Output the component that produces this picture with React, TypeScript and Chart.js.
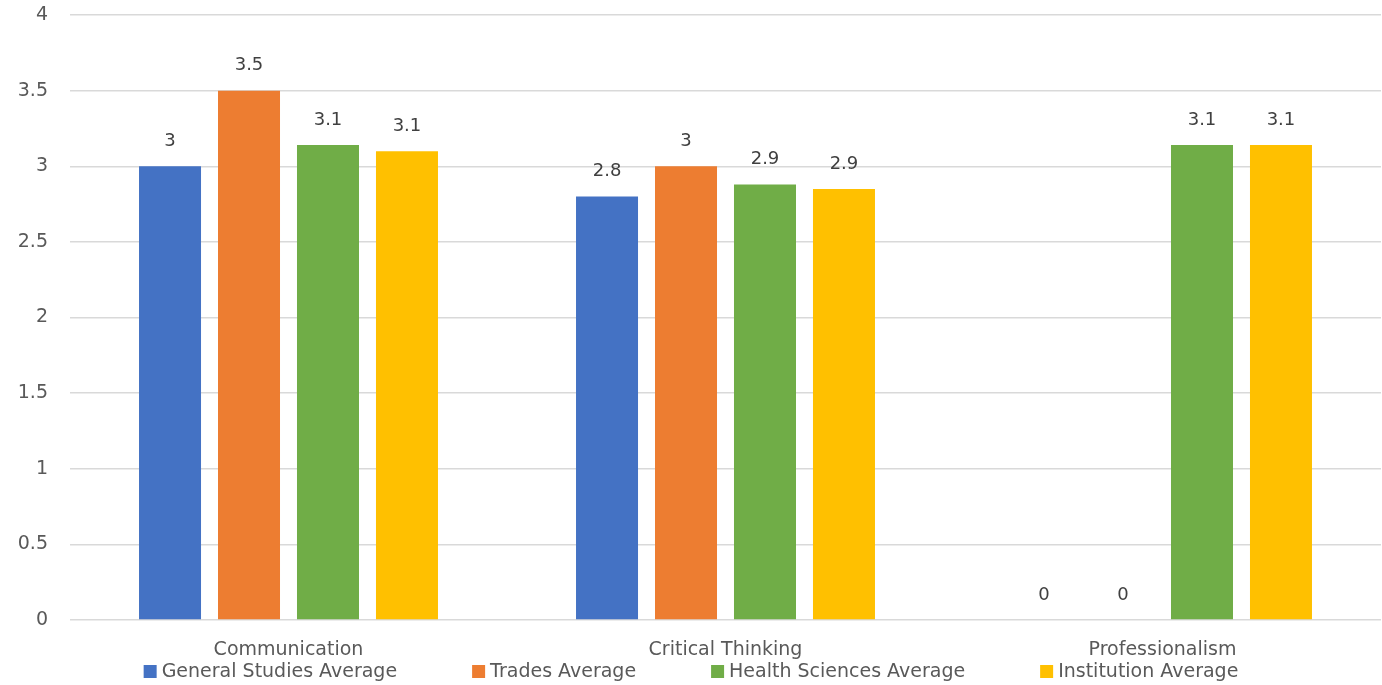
import React, { useEffect, useRef } from "react";
import { Chart, registerables } from "chart.js";

Chart.register(...registerables);

const categories = ["Communication", "Critical Thinking", "Professionalism"];
const seriesNames = [
  "General Studies Average",
  "Trades Average",
  "Health Sciences Average",
  "Institution Average",
];
const generalStudies = [3.0, 2.8, 0];
const trades = [3.5, 3.0, 0];
const healthSciences = [3.14, 2.88, 3.14];
const institution = [3.1, 2.85, 3.14];
const seriesColors = ["#4472C4", "#ED7D31", "#70AD47", "#FFC000"];
const yTicks = [0, 0.5, 1, 1.5, 2, 2.5, 3, 3.5, 4];

const FONT = "'DejaVu Sans', sans-serif";
const TEXT = "#595959";

const dataLabelPlugin = {
  id: "dataLabels",
  afterDatasetsDraw(chart: any) {
    const ctx = chart.ctx;
    ctx.save();
    ctx.font = `18px ${FONT}`;
    ctx.fillStyle = "#404040";
    ctx.textAlign = "center";
    ctx.textBaseline = "middle";
    chart.data.datasets.forEach((ds: any, i: number) => {
      const meta = chart.getDatasetMeta(i);
      meta.data.forEach((el: any, j: number) => {
        const v = ds.data[j];
        const label = String(Math.round(v * 10) / 10);
        ctx.fillText(label, el.x, el.y - 25);
      });
    });
    ctx.restore();
  },
};

const legendPlugin = {
  id: "customLegend",
  afterDraw(chart: any) {
    const ctx = chart.ctx;
    ctx.save();
    ctx.font = `19px ${FONT}`;
    const box = 13;
    const boxGap = 5;
    const itemGap = 75;
    const items = chart.data.datasets.map((ds: any) => ({
      label: ds.label,
      color: ds.backgroundColor,
      w: box + boxGap + ctx.measureText(ds.label).width,
    }));
    const total =
      items.reduce((s: number, it: any) => s + it.w, 0) + itemGap * (items.length - 1);
    let x = chart.width / 2 - total / 2;
    const y = chart.height - 13.5;
    ctx.textBaseline = "middle";
    ctx.textAlign = "left";
    items.forEach((it: any) => {
      ctx.fillStyle = it.color;
      ctx.fillRect(x, y - box / 2, box, box);
      ctx.fillStyle = TEXT;
      ctx.fillText(it.label, x + box + boxGap, y + 1);
      x += it.w + itemGap;
    });
    ctx.restore();
  },
};

export default function App() {
  const ref = useRef<HTMLCanvasElement | null>(null);
  useEffect(() => {
    if (!ref.current) return;
    const values = [generalStudies, trades, healthSciences, institution];
    const chart = new Chart(ref.current, {
      type: "bar",
      data: {
        labels: categories,
        datasets: seriesNames.map((name, i) => ({
          label: name,
          data: values[i],
          backgroundColor: seriesColors[i],
          borderWidth: 0,
          categoryPercentage: 0.723,
          barPercentage: 0.785,
        })),
      },
      options: {
        animation: false,
        responsive: false,
        maintainAspectRatio: false,
        layout: { padding: { top: 15, right: 1, bottom: 23, left: 0 } },
        plugins: {
          legend: { display: false },
          tooltip: { enabled: false },
        },
        scales: {
          x: {
            afterFit(scale: any) {
              scale.height = 42;
              scale.paddingLeft = 0;
              scale.paddingRight = 0;
            },
            grid: { display: false, drawTicks: false },
            border: { display: false },
            ticks: {
              color: TEXT,
              font: { family: FONT, size: 19 },
              padding: 19,
            },
          },
          y: {
            min: 0,
            max: 4,
            afterFit(scale: any) {
              scale.width = 70;
              scale.paddingTop = 0;
              scale.paddingBottom = 0;
            },
            afterBuildTicks(scale: any) {
              scale.ticks = yTicks.map((v) => ({ value: v }));
            },
            grid: { color: "#D9D9D9", lineWidth: 1.5, drawTicks: false },
            border: { display: false },
            ticks: {
              color: TEXT,
              font: { family: FONT, size: 19 },
              padding: 22,
              callback: (v: any) => String(v),
            },
          },
        },
      },
      plugins: [dataLabelPlugin, legendPlugin],
    });
    return () => chart.destroy();
  }, []);
  return (
    <div style={{ position: "fixed", left: 0, top: 0, width: 1382, height: 685, background: "#fff" }}>
      <canvas ref={ref} width={1382} height={685} style={{ display: "block" }} />
    </div>
  );
}
